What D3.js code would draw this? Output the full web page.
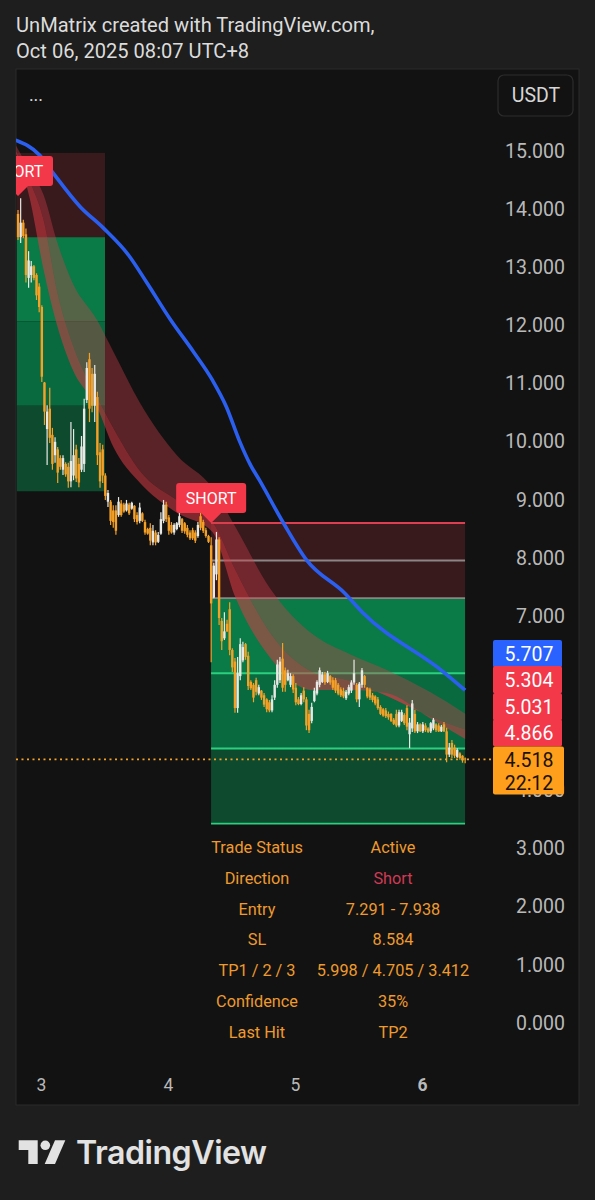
<!DOCTYPE html>
<html>
<head>
<meta charset="utf-8">
<script src="https://cdn.jsdelivr.net/npm/d3@7"></script>
<style>
  html, body { margin: 0; padding: 0; background: #1e1e1e; }
  svg { display: block; }
  text { font-family: Roboto, sans-serif; }
</style>
</head>
<body>
<div id="chart"></div>
<script>
// 30 minute candles, one row per 10 candles
const candleHigh = [
  13.97,14.17,13.80,13.65,13.26,13.09,13.02,12.88,12.71,12.33,
  11.01,10.61,10.91,10.22,10.06,9.89,9.75,9.75,9.63,9.62,
  10.32,10.20,9.93,9.70,10.08,10.72,11.35,11.51,11.25,11.30,
  10.84,9.96,9.93,9.44,9.15,8.98,8.89,8.89,9.03,8.98,
  8.93,8.98,8.93,8.95,8.89,8.77,8.93,8.77,8.64,8.5,
  8.58,8.55,8.46,8.43,8.77,8.98,8.95,8.72,8.6,8.58,
  8.6,8.77,8.67,8.6,8.55,8.46,8.5,8.46,8.6,8.77,
  8.64,8.5,8.38,8.34,7.9,8.43,8.34,6.95,7.05,6.92,
  7.22,6.43,6.26,6.28,6.6,6.54,6.52,6.37,5.88,5.83,
  5.92,5.8,5.71,5.66,5.57,5.54,5.62,5.88,6.23,6.28,
  6.52,6.1,6.06,6.0,5.98,5.83,5.59,5.66,5.76,5.59,
  5.37,5.49,5.75,5.88,6.1,6.02,6.02,6.04,5.97,5.93,
  5.92,5.83,5.76,5.75,5.71,5.8,5.88,6.23,5.83,5.85,
  6.09,5.97,5.76,5.75,5.66,5.62,5.59,5.45,5.4,5.4,
  5.34,5.31,5.23,5.37,5.37,5.37,5.31,5.45,5.23,5.54,
  5.37,5.16,5.14,5.16,5.14,5.07,5.16,5.23,5.14,5.14,
  5.11,5.16,5.06,4.8,4.85,4.77,4.71,4.64,4.59,4.55
];
const candleLow = [
  13.45,13.40,13.48,12.72,12.63,12.72,12.76,12.42,12.21,11.01,
  10.27,9.58,9.96,9.50,9.62,9.27,9.50,9.41,9.38,9.19,
  9.20,9.32,9.29,9.20,9.46,9.46,10.65,10.32,10.49,10.32,
  9.58,9.19,9.27,8.98,8.86,8.55,8.50,8.38,8.69,8.69,
  8.76,8.78,8.72,8.81,8.6,8.56,8.58,8.60,8.38,8.38,
  8.2,8.2,8.2,8.24,8.38,8.58,8.6,8.38,8.4,8.38,
  8.46,8.51,8.41,8.4,8.34,8.29,8.29,8.24,8.33,8.46,
  8.41,8.33,8.24,6.19,7.29,7.6,6.83,6.4,6.57,6.71,
  6.31,6.02,5.32,5.32,5.88,6.19,6.23,5.71,5.71,5.5,
  5.62,5.62,5.54,5.42,5.33,5.33,5.33,5.54,5.75,5.83,
  5.68,5.68,5.86,5.76,5.66,5.45,5.45,5.45,5.5,5.02,
  4.97,5.14,5.5,5.62,5.76,5.83,5.8,5.83,5.8,5.71,
  5.66,5.62,5.59,5.57,5.54,5.62,5.66,5.8,5.5,5.42,
  5.75,5.75,5.57,5.54,5.5,5.45,5.37,5.28,5.25,5.23,
  5.2,5.16,5.11,5.07,5.07,5.16,5.11,5.02,4.71,4.99,
  4.97,4.97,4.99,4.97,4.99,4.97,4.97,5.02,4.99,4.99,
  4.99,4.99,4.47,4.56,4.54,4.54,4.54,4.51,4.46,4.45
];
const candleOpen = [
  13.9,13.5,13.75,13.55,12.8,12.85,13.0,12.85,12.65,12.3,
  11.0,10.2,10.55,10.1,9.75,9.85,9.7,9.5,9.6,9.55,
  9.3,9.4,9.85,9.6,9.5,9.6,10.7,11.4,11.15,10.6,
  10.75,9.8,9.85,9.4,8.95,8.95,8.8,8.8,8.72,8.92,
  8.9,8.8,8.9,8.83,8.88,8.72,8.62,8.75,8.6,8.48,
  8.5,8.25,8.42,8.26,8.4,8.62,8.9,8.68,8.55,8.42,
  8.48,8.55,8.65,8.58,8.5,8.42,8.46,8.42,8.36,8.7,
  8.6,8.46,8.36,8.2,7.3,7.7,8.3,6.9,6.6,6.85,
  7.1,6.4,6.2,5.4,5.95,6.22,6.5,6.3,5.85,5.8,
  5.88,5.65,5.7,5.62,5.55,5.5,5.36,5.58,5.8,5.88,
  6.25,6.05,5.88,5.8,5.95,5.75,5.55,5.47,5.7,5.55,
  5.3,5.18,5.52,5.65,5.8,5.85,5.98,5.85,5.95,5.88,
  5.88,5.8,5.72,5.7,5.57,5.65,5.7,5.84,5.8,5.55,
  5.8,5.95,5.75,5.72,5.62,5.6,5.55,5.42,5.38,5.36,
  5.3,5.3,5.2,5.3,5.1,5.18,5.28,5.4,4.95,5.05,
  5.3,5.0,5.12,5.0,5.1,5.05,5.0,5.05,5.12,5.1,
  5.0,5.12,5.0,4.6,4.8,4.72,4.56,4.62,4.58,4.53
];
const candleClose = [
  13.5,13.75,13.52,12.85,13.1,13.0,12.8,12.5,12.3,11.1,
  10.5,10.5,10.05,9.6,9.98,9.45,9.55,9.7,9.42,9.3,
  9.65,9.75,9.35,9.28,9.9,10.55,11.25,10.55,10.6,11.15,
  9.75,9.3,9.4,9.05,9.1,8.62,8.6,8.45,8.95,8.72,
  8.78,8.92,8.75,8.93,8.65,8.6,8.85,8.62,8.42,8.4,
  8.28,8.45,8.25,8.38,8.65,8.9,8.65,8.45,8.42,8.55,
  8.58,8.7,8.45,8.44,8.38,8.32,8.32,8.28,8.55,8.5,
  8.45,8.36,8.26,7.2,7.85,8.3,6.95,6.55,6.72,6.72,
  6.4,6.1,5.4,6.0,6.5,6.45,6.28,5.78,5.74,5.58,
  5.68,5.76,5.58,5.46,5.38,5.36,5.55,5.8,6.15,6.2,
  5.75,5.8,6.0,5.95,5.72,5.5,5.47,5.62,5.55,5.1,
  5.02,5.42,5.7,5.85,6.05,5.98,5.84,6.0,5.84,5.75,
  5.7,5.65,5.62,5.6,5.68,5.76,5.84,6.0,5.55,5.82,
  6.05,5.8,5.6,5.58,5.54,5.48,5.4,5.3,5.27,5.26,
  5.24,5.18,5.13,5.1,5.33,5.33,5.14,5.08,5.15,5.48,
  5.0,5.12,5.0,5.12,5.02,4.99,5.14,5.2,5.02,5.0,
  5.08,5.0,4.6,4.72,4.6,4.58,4.68,4.54,4.5,4.518
];
const firstCandleDay = 2.819;
const candlesPerDay = 48;

// slow moving average
const maDays = [2.80,2.99,3.09,3.31,3.49,3.69,3.83,4.02,4.20,4.35,4.46,4.56,4.65,4.72,4.91,5.09,5.39,5.53,6.17,6.34];
const maValues = [15.17,14.91,14.62,14.02,13.66,13.19,12.73,12.08,11.53,11.04,10.58,10.01,9.58,9.32,8.58,7.95,7.38,7.05,6.02,5.707];

// red ribbon edges
const bandDays = [2.80,2.91,3.02,3.13,3.25,3.44,3.57,3.78,4.07,4.35,4.53,4.80,5.14,5.43,5.72,6.06,6.34];
const bandTop = [15.09,14.66,14.23,13.40,12.71,12.08,11.53,10.65,9.75,9.19,8.52,7.47,6.67,6.33,6.06,5.68,5.304];
const bandMid = [15.00,14.47,13.80,12.54,11.65,10.75,10.22,9.48,8.98,8.60,7.78,6.71,6.02,5.87,5.61,5.26,5.031];
const bandBottom = [14.95,14.18,12.94,11.96,11.22,10.58,9.89,9.27,8.76,8.43,7.31,6.28,5.71,5.71,5.66,5.23,4.866];

// trade boxes: stop, entry, tp1, tp2, tp3
const tradeStart = [2.81,4.339];
const tradeEnd = [3.504,6.339];
const tradeStop = [14.95,8.584];
const tradeEntryMid = [14.22,7.938];
const tradeEntry = [13.50,7.291];
const tradeTp1 = [12.05,5.998];
const tradeTp2 = [10.60,4.705];
const tradeTp3 = [9.13,3.412];

const signalCandle = [0,73];
const signalPrice = [14.21,8.584];

// 5.000 and 6.000 sit behind the price tags in the picture
const priceTicks = [0,1,2,3,4,7,8,9,10,11,12,13,14,15];
const dayTicks = [3,4,5,6];
const lastPrice = 4.518;
const countdown = "22:12";
const priceTags = [5.707,5.304,5.031,4.866];

const tableLabels = ["Trade Status","Direction","Entry","SL","TP1 / 2 / 3","Confidence","Last Hit"];
const tableValues = ["Active","Short","7.291 - 7.938","8.584","5.998 / 4.705 / 3.412","35%","TP2"];

const width = 595, height = 1200;
const pane = {x: 16, y: 69, w: 563, h: 1036};
const orange = "#f5a128", blue = "#2962ff", red = "#f23849";

const x = d3.scaleLinear().domain([3,6]).range([41,422]);
const y = d3.scaleLinear().domain([0,15]).range([1022,150]);

const svg = d3.select("#chart").append("svg")
    .attr("width", width)
    .attr("height", height)
    .attr("viewBox", [0,0,width,height]);

svg.append("rect").attr("width", width).attr("height", height).attr("fill", "#1e1e1e");
svg.append("rect")
    .attr("x", pane.x).attr("y", pane.y)
    .attr("width", pane.w).attr("height", pane.h)
    .attr("fill", "#121212")
    .attr("stroke", "#2b2b2b");

svg.append("clipPath").attr("id", "plot-clip")
    .append("rect")
    .attr("x", pane.x).attr("y", pane.y)
    .attr("width", pane.w).attr("height", pane.h);

// header
svg.selectAll(".head")
    .data(["UnMatrix created with TradingView.com,","Oct 06, 2025 08:07 UTC+8"])
    .join("text")
    .attr("x", 16)
    .attr("y", (d,i) => 32 + i*26)
    .attr("fill", "#dcdcdc")
    .attr("font-size", 20.1)
    .text(d => d);

svg.append("text").attr("x", 36).attr("y", 101)
    .attr("text-anchor", "middle").attr("fill", "#d8d8d8").attr("font-size", 18).text("...");

const plot = svg.append("g").attr("clip-path", "url(#plot-clip)");

// trade boxes
const zones = [
  {top: tradeStop, bottom: tradeEntry, fill: "#38191c"},
  {top: tradeEntry, bottom: tradeTp1, fill: "#0a7a46"},
  {top: tradeTp1, bottom: tradeTp2, fill: "#0a6a3f"},
  {top: tradeTp2, bottom: tradeTp3, fill: "#0e4a2e"}
];
zones.forEach(z => {
  plot.append("g").selectAll("rect")
      .data(tradeStart)
      .join("rect")
      .attr("x", d => x(d))
      .attr("width", (d,i) => x(tradeEnd[i]) - x(d))
      .attr("y", (d,i) => y(z.top[i]))
      .attr("height", (d,i) => y(z.bottom[i]) - y(z.top[i]))
      .attr("fill", z.fill);
});

// only the live trade has its level lines
const liveLevels = [
  {v: tradeStop[1], c: "#dc3f50"},
  {v: tradeEntryMid[1], c: "#8c8585"},
  {v: tradeEntry[1], c: "#8c8585"},
  {v: tradeTp1[1], c: "#2bd07f"},
  {v: tradeTp2[1], c: "#2bd07f"},
  {v: tradeTp3[1], c: "#2bd07f"}
];
plot.append("g").selectAll("line")
    .data(liveLevels)
    .join("line")
    .attr("x1", x(tradeStart[1]))
    .attr("x2", x(tradeEnd[1]))
    .attr("y1", d => y(d.v))
    .attr("y2", d => y(d.v))
    .attr("stroke", d => d.c)
    .attr("stroke-width", 1.9);

// ribbon
const bandArea = (a, b) => d3.area()
    .x((d,i) => x(bandDays[i]))
    .y0((d,i) => y(b[i]))
    .y1((d,i) => y(a[i]))
    .curve(d3.curveMonotoneX)(bandDays);

plot.append("path").attr("d", bandArea(bandTop, bandMid))
    .attr("fill", "#d0404a").attr("fill-opacity", 0.38);
plot.append("path").attr("d", bandArea(bandMid, bandBottom))
    .attr("fill", "#d83a46").attr("fill-opacity", 0.55);

// moving average
const maLine = d3.line()
    .x((d,i) => x(maDays[i]))
    .y((d,i) => y(maValues[i]))
    .curve(d3.curveMonotoneX);
plot.append("path").attr("d", maLine(maDays))
    .attr("fill", "none")
    .attr("stroke", "#2b5ff0")
    .attr("stroke-width", 3.6);

// last price line goes under the candles
svg.append("line")
    .attr("x1", pane.x).attr("x2", 493)
    .attr("y1", y(lastPrice)).attr("y2", y(lastPrice))
    .attr("stroke", orange)
    .attr("stroke-width", 1.6)
    .attr("stroke-dasharray", "2 3.5");

// candles
const candleX = i => x(firstCandleDay + i / candlesPerDay);
const candleColor = i => candleClose[i] < candleOpen[i] ? orange : "#e8e8e4";
const candles = plot.append("g").selectAll("g")
    .data(d3.range(candleHigh.length))
    .join("g");
candles.append("line")
    .attr("x1", i => candleX(i)).attr("x2", i => candleX(i))
    .attr("y1", i => y(candleHigh[i])).attr("y2", i => y(candleLow[i]))
    .attr("stroke", candleColor)
    .attr("stroke-width", 1.2);
candles.append("rect")
    .attr("x", i => candleX(i) - 1.2)
    .attr("width", 2.4)
    .attr("y", i => y(Math.max(candleOpen[i], candleClose[i])))
    .attr("height", i => Math.abs(y(candleOpen[i]) - y(candleClose[i])))
    .attr("fill", candleColor);

// SHORT tags, tip points at the price
const signals = plot.append("g").selectAll("g")
    .data(signalCandle)
    .join("g")
    .attr("transform", (d,i) => `translate(${candleX(d)},${y(signalPrice[i])})`);
signals.append("path")
    .attr("d", "M-35,-37a3,3 0 0 1 3,-3h64a3,3 0 0 1 3,3v24a3,3 0 0 1 -3,3h-22L0,0L-10,-10h-22a3,3 0 0 1 -3,-3z")
    .attr("fill", red);
signals.append("text")
    .attr("y", -19)
    .attr("text-anchor", "middle")
    .attr("fill", "#fff")
    .attr("font-size", 16)
    .text("SHORT");

// price axis
const yAxis = svg.append("g")
    .attr("transform", "translate(565,1)")
    .call(d3.axisLeft(y).tickValues(priceTicks).tickSize(0).tickPadding(0).tickFormat(d3.format(".3f")));
yAxis.select(".domain").remove();
yAxis.selectAll("text")
    .attr("fill", "#b9b9b9")
    .style("font-family", "Roboto")
    .attr("font-size", 19.5);

// time axis
const xAxis = svg.append("g")
    .attr("transform", "translate(0,1085)")
    .call(d3.axisBottom(x).tickValues(dayTicks).tickSize(0).tickPadding(0).tickFormat(d3.format("d")));
xAxis.select(".domain").remove();
xAxis.selectAll("text")
    .attr("dy", "0.35em")
    .attr("fill", "#b9b9b9")
    .style("font-family", "Roboto")
    .attr("font-size", 17.5)
    .attr("font-weight", d => d === 6 ? 700 : 400);

// stacked price tags on the scale
const tagTop = [640,666,693,719];
const tagFill = [blue,red,red,red];
const tags = svg.append("g").selectAll("g")
    .data(priceTags)
    .join("g");
tags.append("rect")
    .attr("x", 493).attr("width", 69)
    .attr("y", (d,i) => tagTop[i]).attr("height", 27.5)
    .attr("rx", 2)
    .attr("fill", (d,i) => tagFill[i]);
tags.append("text")
    .attr("x", 529)
    .attr("y", (d,i) => tagTop[i] + 13.5)
    .attr("dy", "0.36em")
    .attr("text-anchor", "middle")
    .attr("fill", "#fff")
    .style("font-family", "Roboto")
    .attr("font-size", 19.5)
    .text(d => d3.format(".3f")(d));

svg.append("rect")
    .attr("x", 493).attr("y", 746.5).attr("width", 71).attr("height", 48)
    .attr("rx", 2).attr("fill", "#ff9f1c");
svg.selectAll(".last")
    .data([d3.format(".3f")(lastPrice), countdown])
    .join("text")
    .attr("x", 529)
    .attr("y", (d,i) => 760 + i*23)
    .attr("dy", "0.36em")
    .attr("text-anchor", "middle")
    .attr("fill", "#1a1206")
    .style("font-family", "Roboto")
    .attr("font-size", 19.5)
    .text(d => d);

// USDT button
svg.append("rect")
    .attr("x", 498).attr("y", 75).attr("width", 75).attr("height", 41)
    .attr("rx", 6)
    .attr("fill", "#121212")
    .attr("stroke", "#2c2c2c")
    .attr("stroke-width", 1.2);
svg.append("text")
    .attr("x", 536).attr("y", 95)
    .attr("dy", "0.36em")
    .attr("text-anchor", "middle")
    .attr("fill", "#d6d6d6")
    .style("font-family", "Roboto")
    .attr("font-size", 19.5)
    .text("USDT");

// status table
const tableY = d3.scalePoint().domain(d3.range(tableLabels.length)).range([847,1032]);
svg.append("g").selectAll("text")
    .data(tableLabels)
    .join("text")
    .attr("x", 257)
    .attr("y", (d,i) => tableY(i))
    .attr("dy", "0.36em")
    .attr("text-anchor", "middle")
    .attr("fill", "#ee9a2e")
    .attr("font-size", 16.3)
    .text(d => d);
svg.append("g").selectAll("text")
    .data(tableValues)
    .join("text")
    .attr("x", 393)
    .attr("y", (d,i) => tableY(i))
    .attr("dy", "0.36em")
    .attr("text-anchor", "middle")
    .attr("fill", (d,i) => i === 1 ? "#d03a55" : "#ee9a2e")
    .attr("font-size", 16.3)
    .text(d => d);

// TradingView logo
const logo = svg.append("g").attr("fill", "#e2e2e2");
logo.append("path").attr("d", "M18.7,1140.3H37.7V1164H28.3V1150H18.7Z");
logo.append("circle").attr("cx", 45.3).attr("cy", 1145.3).attr("r", 4.8);
logo.append("path").attr("d", "M55,1140.3H65.3L55,1164H44.7Z");
logo.append("text")
    .attr("x", 76).attr("y", 1164)
    .style("font-family", "Inter")
    .attr("font-weight", 600)
    .attr("font-size", 32.2)
    .attr("letter-spacing", -0.5)
    .text("TradingView");
</script>
</body>
</html>
